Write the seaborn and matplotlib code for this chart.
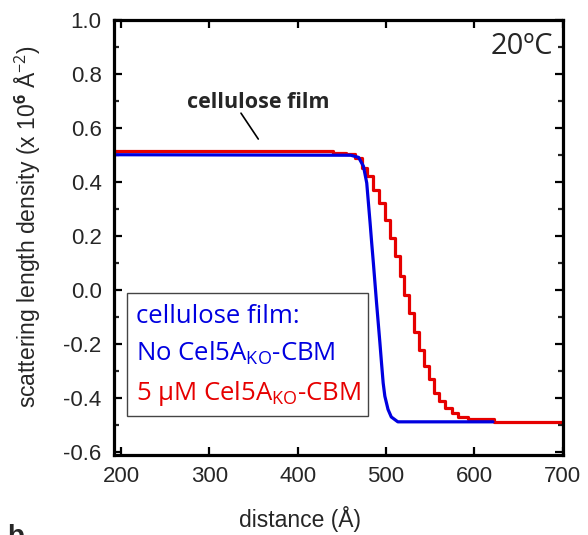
import matplotlib
matplotlib.use("Agg")
import matplotlib.pyplot as plt
from matplotlib.patches import Rectangle
from matplotlib.ticker import MultipleLocator
import pandas as pd
import seaborn as sns

# Scattering length density profiles (distance in Å, SLD in 10^6 Å^-2)
blue_x = [185, 460, 468.9, 474.4, 478.1, 480.0, 481.9, 483.7, 485.6, 487.4,
          489.2, 491.1, 493.0, 494.8, 496.7, 498.6, 502.2, 505.9, 513.3, 621.0]
blue_y = [0.500, 0.498, 0.490, 0.457, 0.395, 0.321, 0.247, 0.173, 0.099, 0.025,
          -0.049, -0.123, -0.197, -0.271, -0.346, -0.395, -0.444, -0.472, -0.490, -0.490]

red_x = [185, 415, 440, 455, 465.2, 472.6, 478.1, 485.6, 492.2, 498.6, 504.1,
         509.7, 515.2, 520.8, 526.3, 531.9, 537.4, 543.0, 548.6, 554.1, 559.7,
         567.0, 574.4, 581.9, 593.0, 622.6, 700]
red_y = [0.515, 0.512, 0.508, 0.503, 0.488, 0.451, 0.420, 0.370, 0.321, 0.259, 0.191,
         0.126, 0.052, -0.019, -0.086, -0.158, -0.222, -0.284, -0.333, -0.383, -0.414,
         -0.438, -0.459, -0.472, -0.480, -0.490, -0.490]

x_ticks = [200, 300, 400, 500, 600, 700]
y_ticks = [-0.6, -0.4, -0.2, 0.0, 0.2, 0.4, 0.6, 0.8, 1.0]

BLUE = "#0000e0"
RED = "#e60000"

sns.set_style("ticks")
plt.rcParams["font.family"] = ["Liberation Sans", "DejaVu Sans"]
plt.rcParams["mathtext.fontset"] = "custom"
plt.rcParams["mathtext.rm"] = "Open Sans"
plt.rcParams["mathtext.bf"] = "Open Sans:bold"
plt.rcParams["mathtext.it"] = "Open Sans:italic"

fig = plt.figure(figsize=(5.88, 5.35), dpi=100)
ax = fig.add_axes([0.194, 0.150, 0.763, 0.813])

red_df = pd.DataFrame({"distance": red_x, "sld": red_y})
blue_df = pd.DataFrame({"distance": blue_x, "sld": blue_y})
sns.lineplot(data=red_df, x="distance", y="sld", ax=ax, color=RED, lw=2.3,
             drawstyle="steps-post", estimator=None)
sns.lineplot(data=blue_df, x="distance", y="sld", ax=ax, color=BLUE, lw=2.3,
             estimator=None)

ax.set_xlim(192, 700)
ax.set_ylim(-0.612, 1.0)
ax.set_xticks(x_ticks)
ax.set_yticks(y_ticks)
ax.set_yticklabels([f"{v:.1f}" for v in y_ticks])
ax.yaxis.set_minor_locator(MultipleLocator(0.1))

for s in ax.spines.values():
    s.set_linewidth(2.3)
    s.set_color("black")
ax.tick_params(axis="both", which="major", direction="in", length=5.5, width=1.6,
               top=True, right=True, labelsize=16, color="black")
ax.tick_params(axis="y", which="minor", direction="in", length=3.5, width=1.6,
               left=True, right=True)
ax.tick_params(axis="y", which="major", pad=9)
ax.tick_params(axis="x", which="major", pad=8)

ax.set_xlabel("distance (Å)", fontsize=16.5)
ax.xaxis.set_label_coords(0.414, -0.118)
ax.set_ylabel("scattering length density (x 10$^{\\mathbf{6}}$ Å$^{\\mathrm{-2}}$)",
              fontsize=16.5)
ax.yaxis.set_label_coords(-0.158, 0.524)

# temperature tag
ax.text(689, 0.955, "20ºC", fontsize=21, family="Open Sans", ha="right", va="top")

# film annotation with its leader line
ax.text(355, 0.674, "cellulose film", fontsize=15.5, fontweight="bold",
        family="Open Sans", ha="center", va="baseline")
ax.annotate("", xy=(355.3, 0.558), xytext=(335.7, 0.654),
            arrowprops=dict(arrowstyle="-", color="black", lw=1.2,
                            shrinkA=0, shrinkB=0))

# sample key
ax.add_patch(Rectangle((0.028, 0.090), 0.537, 0.283, transform=ax.transAxes,
                       fill=False, edgecolor="#444444", lw=1.0, zorder=5))
ax.text(0.049, 0.303, "cellulose film:", transform=ax.transAxes, color=BLUE,
        fontsize=18.5, family="Open Sans", va="baseline")
ax.text(0.049, 0.217, "No Cel5A$_{\\mathrm{KO}}$-CBM", transform=ax.transAxes,
        color=BLUE, fontsize=18.5, family="Open Sans", va="baseline")
ax.text(0.049, 0.126, "5 μM Cel5A$_{\\mathrm{KO}}$-CBM", transform=ax.transAxes,
        color=RED, fontsize=18.5, family="Open Sans", va="baseline")

# next panel letter
fig.text(0.012, 1 - 524 / 535, "b", fontsize=20, fontweight="bold", va="top")

fig.savefig("out.png", dpi=100)
